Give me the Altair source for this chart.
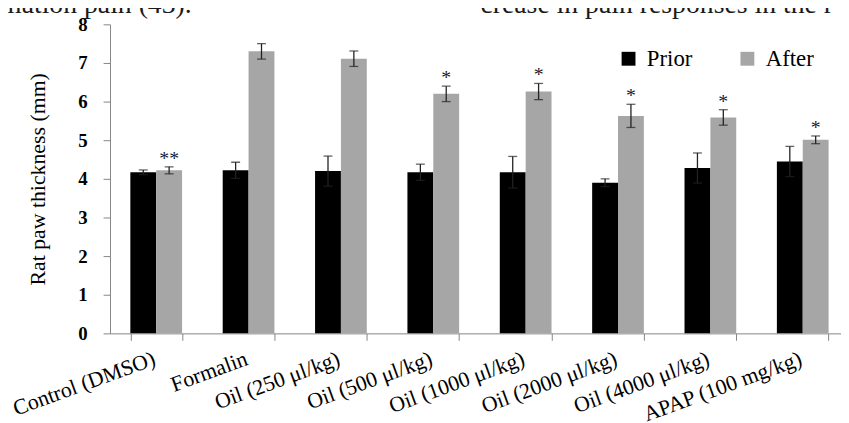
import altair as alt
import pandas as pd

categories = ["Control (DMSO)", "Formalin", "Oil (250 \u03bcl/kg)", "Oil (500 \u03bcl/kg)",
              "Oil (1000 \u03bcl/kg)", "Oil (2000 \u03bcl/kg)", "Oil (4000 \u03bcl/kg)", "APAP (100 mg/kg)"]
series = ["Prior", "After"]
prior = [4.17, 4.22, 4.20, 4.17, 4.17, 3.90, 4.28, 4.45]
prior_err = [0.06, 0.21, 0.39, 0.21, 0.41, 0.10, 0.39, 0.39]
after = [4.22, 7.30, 7.11, 6.20, 6.26, 5.63, 5.59, 5.01]
after_err = [0.09, 0.20, 0.20, 0.20, 0.21, 0.30, 0.20, 0.10]
stars = ["**", "", "", "*", "*", "*", "*", "*"]
y_ticks = [0, 1, 2, 3, 4, 5, 6, 7, 8]
top_left_text = "mation pain (43)."
top_right_text = "crease in pain responses in the r"

rows = []
for i, c in enumerate(categories):
    rows.append({"cat": c, "series": "Prior", "value": prior[i], "err": prior_err[i], "star": ""})
    rows.append({"cat": c, "series": "After", "value": after[i], "err": after_err[i], "star": stars[i]})
df = pd.DataFrame(rows)
df["lo"] = df["value"] - df["err"]
df["hi"] = df["value"] + df["err"]

SERIF = "Liberation Serif"
AXIS_GRAY = "#868686"

xscale = alt.Scale(domain=categories, range=[0, 746], paddingInner=0.44, paddingOuter=0.22)
yscale = alt.Scale(domain=[0, 8], nice=False)
xoff = alt.XOffset("series:N", scale=alt.Scale(domain=series, paddingInner=0, paddingOuter=0))

x_axis = alt.Axis(labelAngle=340, labelAlign="right", labelBaseline="alphabetic",
                  labelFont=SERIF, labelFontSize=22, labelColor="#000000",
                  labelPadding=24, labelOverlap=False, labelLimit=400,
                  tickBand="extent", tickSize=7, tickColor=AXIS_GRAY,
                  domainColor=AXIS_GRAY, grid=False)
y_axis = alt.Axis(values=y_ticks, labelFont=SERIF, labelFontWeight="bold", labelOverlap=False,
                  labelFontSize=19, labelColor="#000000", labelPadding=16,
                  tickSize=7, tickColor=AXIS_GRAY, domainColor=AXIS_GRAY, grid=False,
                  titleFont=SERIF, titleFontSize=22,
                  titleFontWeight="normal", titleColor="#000000", titleAngle=270,
                  titleX=-66, titleY=156, titleAlign="center",
                  titleBaseline="alphabetic")
YTITLE = "Rat paw thickness (mm)"

def xenc():
    return alt.X("cat:N", scale=xscale, sort=categories, title=None, axis=x_axis)

def yenc(field):
    return alt.Y(field, scale=yscale, title=YTITLE, axis=y_axis)

base = alt.Chart(df)

bars = base.mark_bar().encode(
    x=xenc(),
    xOffset=xoff,
    y=yenc("value:Q"),
    color=alt.Color("series:N", scale=alt.Scale(domain=series, range=["#000000", "#a6a6a6"]),
                    legend=alt.Legend(title=None, orient="none", legendX=512, legendY=23,
                                      direction="horizontal", symbolType="square",
                                      symbolSize=196, symbolStrokeWidth=0,
                                      labelFont=SERIF, labelFontSize=23, labelColor="#000000",
                                      labelOffset=7, columnPadding=44)),
)

err_rule = base.mark_rule(color="#222222", strokeWidth=1.3).encode(
    x=xenc(), xOffset=xoff, y=yenc("lo:Q"), y2="hi:Q",
)
cap_hi = base.mark_tick(color="#222222", thickness=1.3, size=9).encode(
    x=xenc(), xOffset=xoff, y=yenc("hi:Q"),
)
cap_lo = base.mark_tick(color="#222222", thickness=1.3, size=9).encode(
    x=xenc(), xOffset=xoff, y=yenc("lo:Q"),
)
star_text = base.transform_filter(alt.datum.star != "").mark_text(
    font=SERIF, fontSize=20, baseline="alphabetic", align="center", dy=-2, color="#1a1a2a"
).encode(
    x=xenc(), xOffset=xoff, y=yenc("hi:Q"), text="star:N",
)

tl = alt.Chart(pd.DataFrame({"t": [top_left_text]})).mark_text(
    font=SERIF, fontSize=28, align="left", baseline="alphabetic", color="#1a1a1a"
).encode(x=alt.value(-111), y=alt.value(-11), text="t:N")
tr = alt.Chart(pd.DataFrame({"t": [top_right_text]})).mark_text(
    font=SERIF, fontSize=28, align="left", baseline="alphabetic", color="#1a1a1a"
).encode(x=alt.value(374), y=alt.value(-11), text="t:N")

chart = alt.layer(bars, err_rule, cap_hi, cap_lo, star_text, tl, tr).properties(
    width=738, height=312,
    autosize=alt.AutoSizeParams(type="none"),
    padding={"left": 103, "top": 14.5, "right": 0, "bottom": 88},
    background="white",
).configure_view(stroke=None).configure_axis(
    labelFont=SERIF, titleFont=SERIF
).configure_legend(labelFont=SERIF).configure_text(font=SERIF)

chart.save("out.html", embed_options={"renderer": "svg", "actions": False})
